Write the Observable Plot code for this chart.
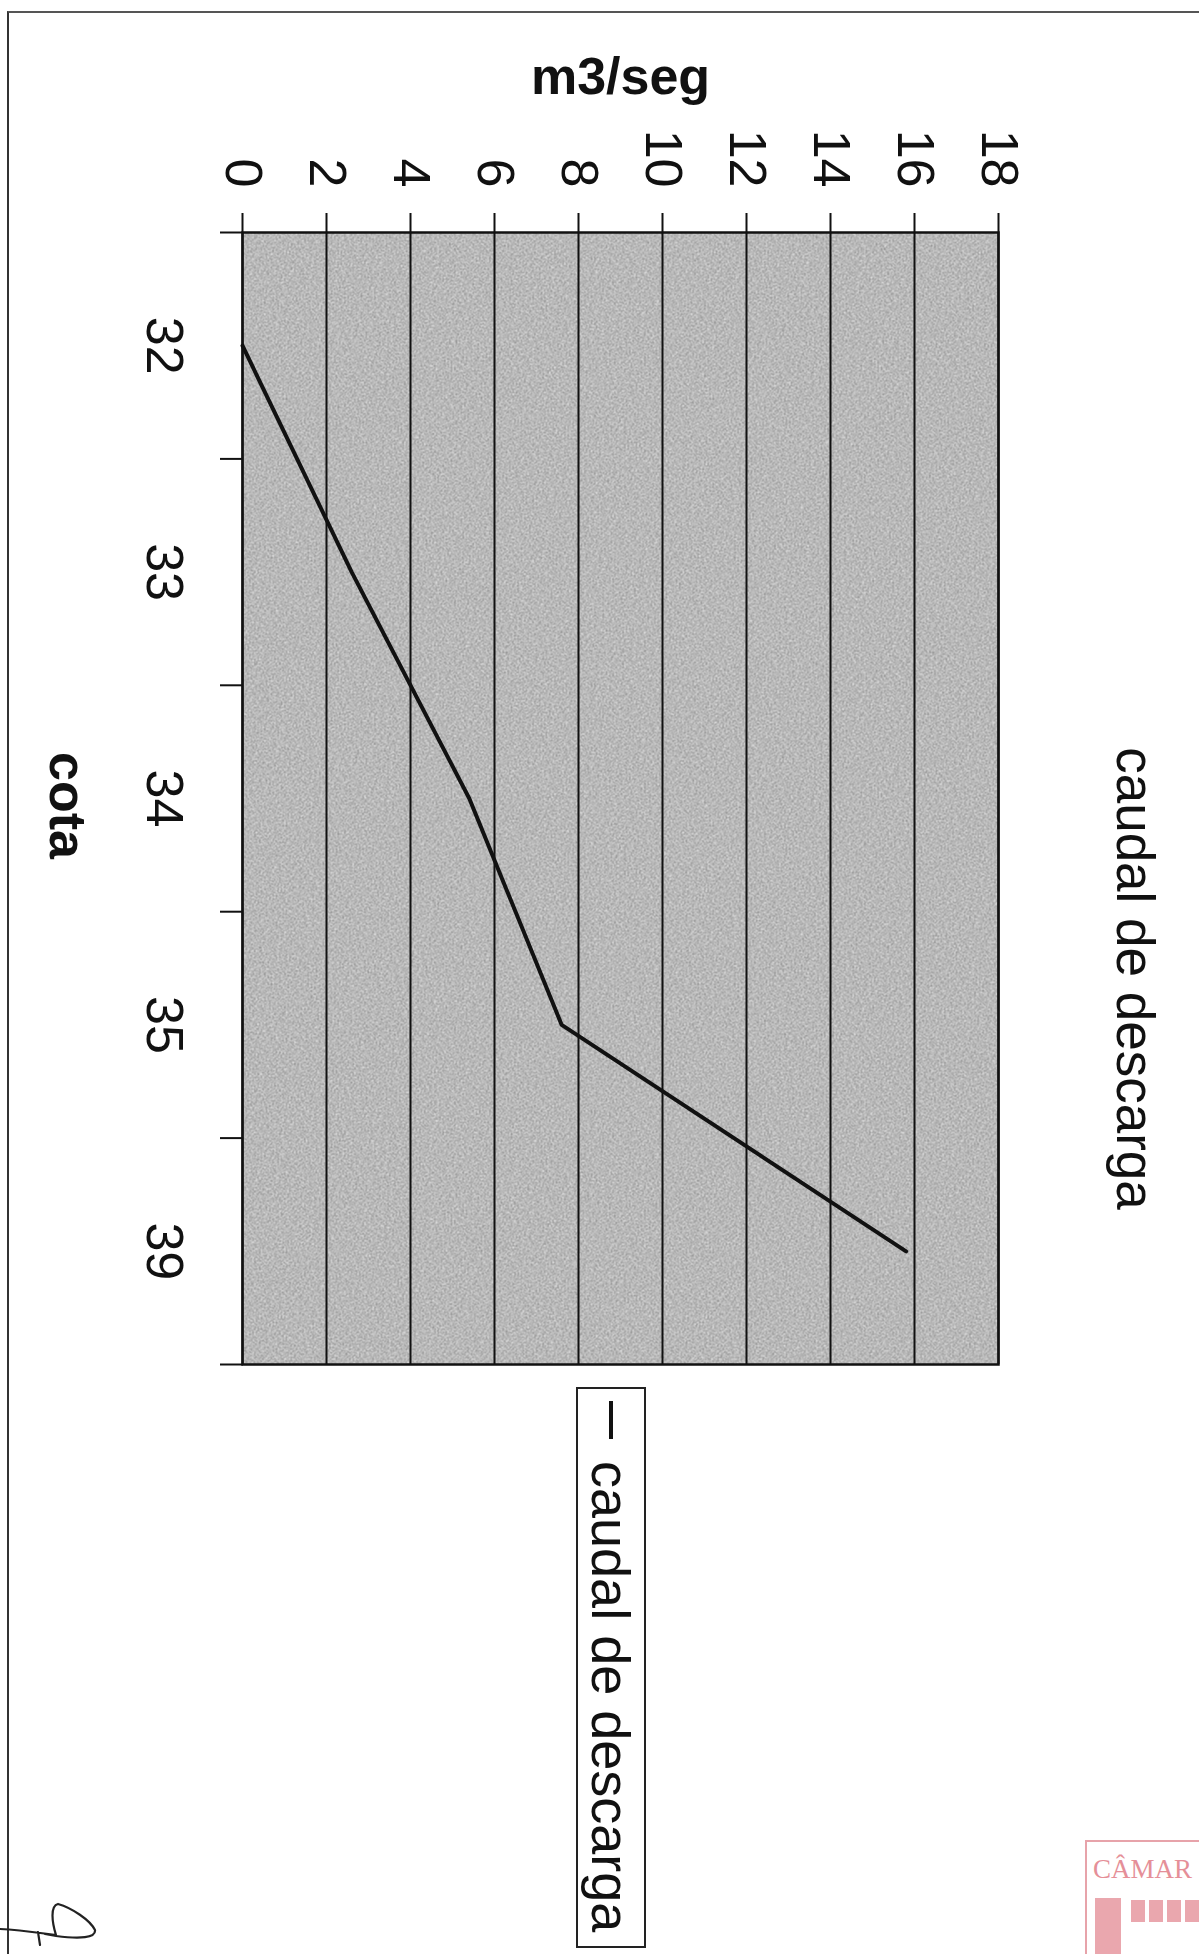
<!DOCTYPE html>
<html>
<head>
<meta charset="utf-8">
<script src="https://cdn.jsdelivr.net/npm/d3@7"></script>
<script src="https://cdn.jsdelivr.net/npm/@observablehq/plot@0.6"></script>
<style>
  html, body { margin: 0; padding: 0; background: #fff; overflow: hidden; width: 1199px; height: 1954px; }
  #page { position: absolute; left: 0; top: 0; width: 1199px; height: 1954px; overflow: hidden; background: #fff; }
  #rot { position: absolute; left: 0; top: 0; width: 1954px; height: 1199px; transform-origin: 0 0; transform: translate(1199px, 0) rotate(90deg); font-family: 'Liberation Sans', Arial, sans-serif; }
  #rot svg { position: absolute; left: 0; top: 0; }
  #legend { position: absolute; left: 1387px; top: 553px; width: 561px; height: 70px; box-sizing: border-box; border: 2px solid #222; background: #fff; display: flex; align-items: center; }
  #legend .sw { flex: 0 0 auto; width: 38px; height: 4px; background: #111; margin-left: 12px; margin-right: 22px; }
  #legend .lt { font-size: 54px; color: #111; line-height: 1; white-space: nowrap; }
  #chartarea { position: absolute; left: 7px; top: 11px; width: 1300px; height: 2100px; border-left: 2px solid #333; border-top: 2px solid #555; pointer-events: none; }
  #stamp { position: absolute; left: 1085px; top: 1840px; width: 140px; height: 140px; border: 2px solid #e7a3aa; box-sizing: border-box; }
  #stamp .st { position: absolute; left: 6px; top: 12px; font-family: 'Liberation Serif', serif; font-size: 27px; color: #e58f98; white-space: nowrap; }
  #stamp .d { position: absolute; left: 8px; top: 56px; width: 26px; height: 80px; background: #eaa7ae; }
  #stamp .b { position: absolute; left: 44px; top: 58px; width: 70px; height: 22px; background: repeating-linear-gradient(90deg, #eaa7ae 0 14px, #fff 14px 18px); }
  #sig { position: absolute; left: 0; top: 1880px; }
</style>
</head>
<body>
<div id="page">
  <div id="chartarea"></div>
  <div id="rot">
    <div id="legend"><div class="sw"></div><div class="lt">caudal de descarga</div></div>
  </div>
  <div id="stamp"><div class="st">CÂMAR</div><div class="d"></div><div class="b"></div></div>
  <svg id="sig" width="140" height="74" viewBox="0 1880 140 74">
    <path d="M0,1929 C20,1930 40,1933 56,1935 C52,1922 50,1906 58,1904 C72,1908 90,1920 95,1930 C96,1938 80,1939 56,1936 L45,1934 M38,1932 L40,1945" fill="none" stroke="#222" stroke-width="2.2" stroke-linecap="round"/>
  </svg>
</div>
<script>
// ---- data ----
const cotas = ["32", "33", "34", "35", "39"];
const caudal = [0, 2.6, 5.4, 7.6, 15.8];
const valueTicks = [0, 2, 4, 6, 8, 10, 12, 14, 16, 18];
const titleText = "caudal de descarga";
const yLabel = "m3/seg";
const xLabel = "cota";

const data = cotas.map((c, i) => ({pos: i + 0.5, cota: c, q: caudal[i]}));
const labelPos = cotas.map((c, i) => i + 0.5);
const bounds = d3.range(cotas.length + 1);

const W = 1954, H = 1199;
const mL = 232, mR = 590, mT = 200, mB = 243;

const chart = Plot.plot({
  width: W,
  height: H,
  marginLeft: mL,
  marginRight: mR,
  marginTop: mT,
  marginBottom: mB,
  style: {fontFamily: "'Liberation Sans', Arial, sans-serif", fontSize: "52px", color: "#111", background: "transparent", overflow: "visible"},
  x: {type: "linear", domain: [0, cotas.length]},
  y: {domain: [0, 18]},
  marks: [
    Plot.frame({fill: "#b8b8b8", stroke: null, className: "plotbg"}),
    Plot.gridY(valueTicks, {stroke: "#111", strokeOpacity: 1, strokeWidth: 2}),
    Plot.line(data, {x: "pos", y: "q", stroke: "#111", strokeWidth: 4}),
    Plot.frame({stroke: "#111", strokeWidth: 2.5}),
    Plot.axisY(valueTicks, {anchor: "left", tickSize: 19, tickPadding: 26, strokeWidth: 2, label: null, fontSize: 52}),
    Plot.axisX(labelPos, {anchor: "bottom", tickSize: 0, tickPadding: 59, tickFormat: d => cotas[Math.round(d - 0.5)], label: null, fontSize: 52}),
    Plot.axisX(bounds, {anchor: "bottom", tickSize: 23, tickFormat: () => "", label: null, strokeWidth: 2}),
    Plot.text([titleText], {frameAnchor: "top-left", dx: 746, dy: -118, textAnchor: "middle", lineAnchor: "bottom", fontSize: 53}),
    Plot.text([yLabel], {frameAnchor: "left", dx: -139, rotate: -90, textAnchor: "middle", lineAnchor: "bottom", fontSize: 52, fontWeight: "bold"}),
    Plot.text([xLabel], {frameAnchor: "bottom-left", dx: 573, dy: 193, textAnchor: "middle", lineAnchor: "bottom", fontSize: 52, fontWeight: "bold"})
  ]
});

// scanned-paper speckle on the plot background
const svg = d3.select(chart);
const defs = svg.insert("defs", ":first-child");
const f = defs.append("filter").attr("id", "speckle").attr("x", 0).attr("y", 0).attr("width", "100%").attr("height", "100%")
  .attr("color-interpolation-filters", "sRGB");
f.append("feTurbulence").attr("type", "fractalNoise").attr("baseFrequency", 0.6).attr("numOctaves", 2).attr("seed", 7).attr("result", "n");
f.append("feColorMatrix").attr("in", "n").attr("type", "matrix")
  .attr("values", "1 0 0 0 0  1 0 0 0 0  1 0 0 0 0  0 0 0 0 1").attr("result", "g");
f.append("feComposite").attr("in", "SourceGraphic").attr("in2", "g").attr("operator", "arithmetic")
  .attr("k1", 0).attr("k2", 1).attr("k3", 0.55).attr("k4", -0.275);
svg.selectAll(".plotbg").filter(function() { return this.tagName === "rect"; }).attr("filter", "url(#speckle)");
svg.selectAll(".plotbg rect").attr("filter", "url(#speckle)");

document.getElementById("rot").prepend(chart);
</script>
</body>
</html>
